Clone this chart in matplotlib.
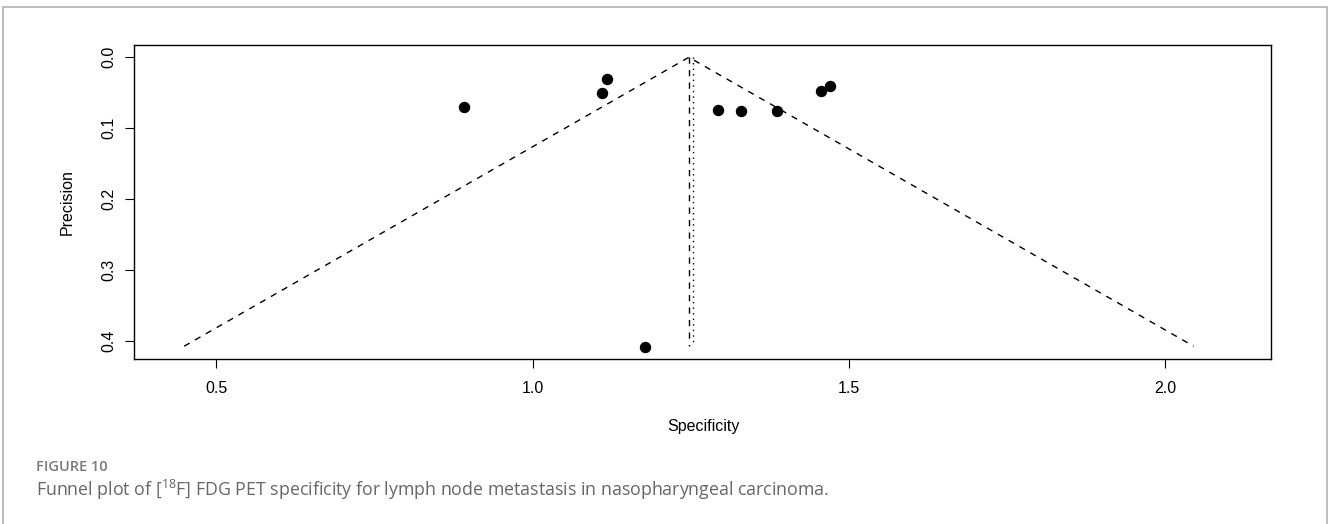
import matplotlib
matplotlib.use('Agg')
import matplotlib.pyplot as plt
import numpy as np

# study estimates
spec = [0.892, 1.109, 1.118, 1.178, 1.293, 1.329, 1.386, 1.456, 1.470]
prec = [0.070, 0.051, 0.030, 0.408, 0.074, 0.076, 0.076, 0.047, 0.041]

pooled = 1.247      # dashed vertical
mean_line = 1.253   # dotted vertical
se_max = 0.407      # bottom of funnel

xticks = [0.5, 1.0, 1.5, 2.0]
yticks = [0.0, 0.1, 0.2, 0.3, 0.4]

plt.rcParams['font.family'] = ['Liberation Sans', 'DejaVu Sans']

fig = plt.figure(figsize=(13.28, 5.24), dpi=100)

# outer frame (open at the bottom)
W, H = 1328, 524
fig.add_artist(plt.Line2D([3/W, 3/W, 1326.5/W, 1326.5/W], [0, 1-7/H, 1-7/H, 0],
                          transform=fig.transFigure, color='#b0b0b0', lw=1.2))

ax = fig.add_axes([134/W, 1-359/H, (1271-134)/W, (359-45)/H])
ax.scatter(spec, prec, s=52, color='black', zorder=3)

# funnel
ax.plot([pooled-1.96*se_max, pooled, pooled+1.96*se_max], [se_max, 0, se_max],
        color='black', lw=1.0, dashes=(4.5, 4.5))
ax.plot([pooled, pooled], [0, se_max], color='black', lw=1.0, dashes=(4.5, 4.5))
ax.plot([mean_line, mean_line], [0, se_max], color='black', lw=1.0, dashes=(1, 3))

ax.set_xlim(0.370, 2.167)
ax.set_ylim(0.425, -0.0173)
ax.set_xticks(xticks)
ax.set_xticklabels([f'{v:.1f}' for v in xticks], fontsize=11.5)
ax.set_yticks(yticks)
ax.set_yticklabels([f'{v:.1f}' for v in yticks], fontsize=11.5, rotation=90, va='center')
ax.tick_params(axis='x', length=6.5, width=0.8, pad=9, colors='black')
ax.tick_params(axis='y', length=6.5, width=0.8, pad=6, colors='black')
for s in ax.spines.values():
    s.set_linewidth(1.0)

fig.text(703/W, 1-427/H, 'Specificity', ha='center', va='center', fontsize=11.5)
fig.text(67/W, 1-202/H, 'Precision', ha='center', va='center', rotation=90, fontsize=11.5)

fig.text(36/W, 1-467/H, 'FIGURE 10', ha='left', va='center', fontsize=10.5,
         family='Open Sans', weight='semibold', color='#7a7a7a')
fig.text(36/W, 1-490/H,
         r'Funnel plot of [$\mathregular{^{18}}$F] FDG PET specificity for lymph node metastasis in nasopharyngeal carcinoma.',
         ha='left', va='center', fontsize=12.8, family='Open Sans', color='#666666')

fig.savefig('out.png', dpi=100)
